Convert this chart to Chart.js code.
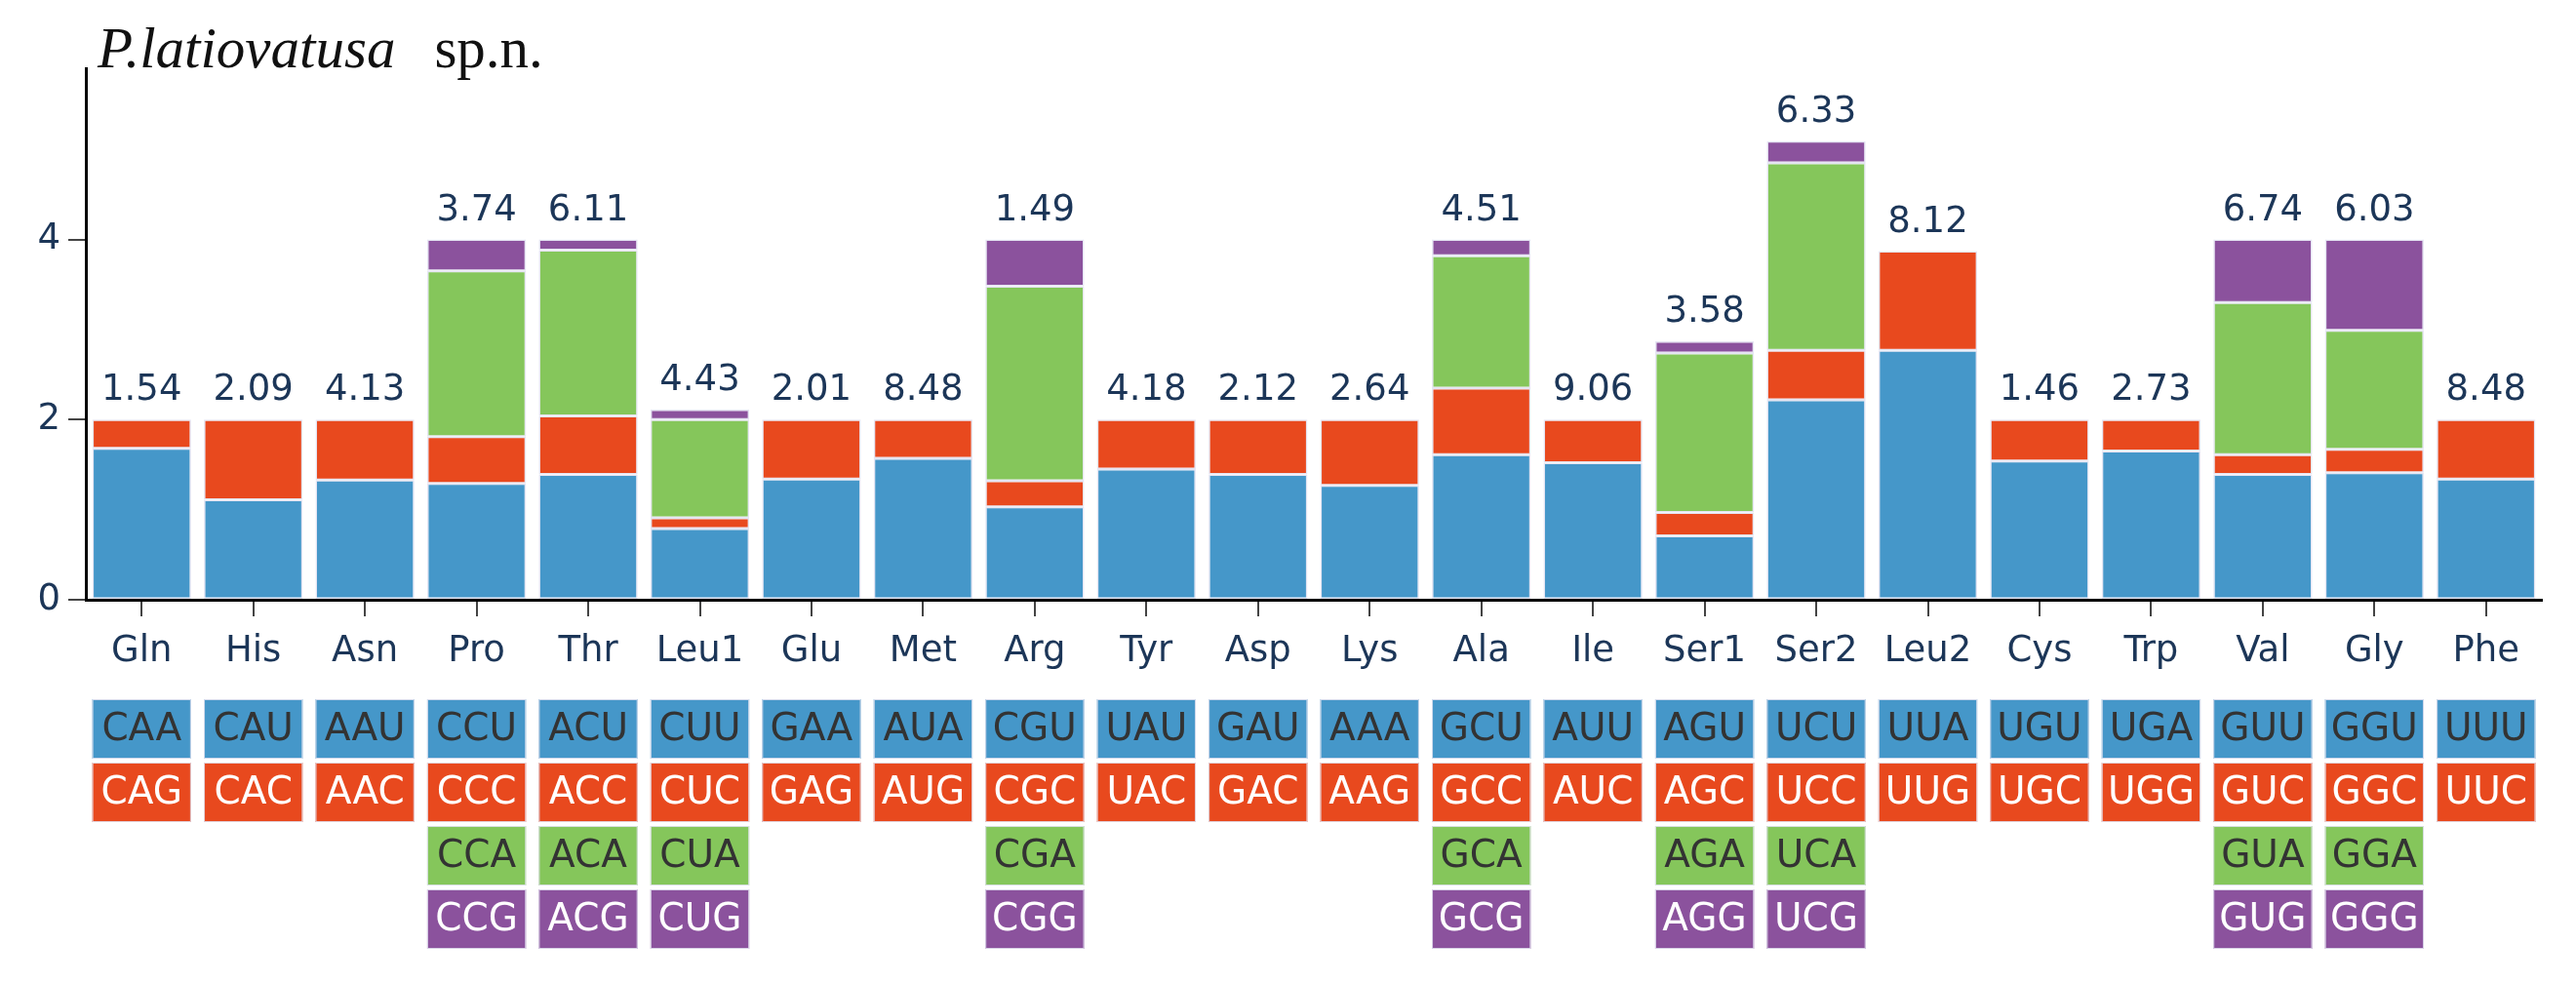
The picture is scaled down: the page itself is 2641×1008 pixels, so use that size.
<!DOCTYPE html>
<html>
<head>
<meta charset="utf-8">
<script src="https://cdn.jsdelivr.net/npm/chart.js@4.4.1/dist/chart.umd.min.js"></script>
<style>
  html, body { margin: 0; padding: 0; background: #fff; }
  canvas { display: block; }
</style>
</head>
<body>
<canvas id="myChart" width="2641" height="1008"></canvas>
<script>
// amino acids along the x axis
var aminoAcids = ['Gln', 'His', 'Asn', 'Pro', 'Thr', 'Leu1', 'Glu', 'Met', 'Arg', 'Tyr', 'Asp',
                  'Lys', 'Ala', 'Ile', 'Ser1', 'Ser2', 'Leu2', 'Cys', 'Trp', 'Val', 'Gly', 'Phe'];

// RSCU of each codon, stacked bottom to top
var rscu1 = [1.68, 1.11, 1.33, 1.29, 1.39, 0.79, 1.34, 1.57, 1.03, 1.45, 1.39,
             1.27, 1.61, 1.52, 0.71, 2.22, 2.77, 1.54, 1.65, 1.39, 1.41, 1.34];
var rscu2 = [0.32, 0.89, 0.67, 0.52, 0.65, 0.12, 0.66, 0.43, 0.29, 0.55, 0.61,
             0.73, 0.74, 0.48, 0.26, 0.55, 1.10, 0.46, 0.35, 0.22, 0.26, 0.66];
var rscu3 = [null, null, null, 1.84, 1.84, 1.09, null, null, 2.16, null, null,
             null, 1.47, null, 1.77, 2.08, null, null, null, 1.69, 1.32, null];
var rscu4 = [null, null, null, 0.35, 0.12, 0.11, null, null, 0.52, null, null,
             null, 0.18, null, 0.13, 0.24, null, null, null, 0.70, 1.01, null];

// numbers printed above the bars
var barLabels = ['1.54', '2.09', '4.13', '3.74', '6.11', '4.43', '2.01', '8.48', '1.49', '4.18', '2.12',
                 '2.64', '4.51', '9.06', '3.58', '6.33', '8.12', '1.46', '2.73', '6.74', '6.03', '8.48'];

// codon table under the axis
var codons1 = ['CAA', 'CAU', 'AAU', 'CCU', 'ACU', 'CUU', 'GAA', 'AUA', 'CGU', 'UAU', 'GAU',
               'AAA', 'GCU', 'AUU', 'AGU', 'UCU', 'UUA', 'UGU', 'UGA', 'GUU', 'GGU', 'UUU'];
var codons2 = ['CAG', 'CAC', 'AAC', 'CCC', 'ACC', 'CUC', 'GAG', 'AUG', 'CGC', 'UAC', 'GAC',
               'AAG', 'GCC', 'AUC', 'AGC', 'UCC', 'UUG', 'UGC', 'UGG', 'GUC', 'GGC', 'UUC'];
var codons3 = ['', '', '', 'CCA', 'ACA', 'CUA', '', '', 'CGA', '', '',
               '', 'GCA', '', 'AGA', 'UCA', '', '', '', 'GUA', 'GGA', ''];
var codons4 = ['', '', '', 'CCG', 'ACG', 'CUG', '', '', 'CGG', '', '',
               '', 'GCG', '', 'AGG', 'UCG', '', '', '', 'GUG', 'GGG', ''];

var yTicks = [0, 2, 4];

var colors = ['#4597c9', '#e8491e', '#85c65b', '#8b529d'];
var codonText = ['#333333', '#ffffff', '#333333', '#ffffff'];
var navy = '#1c3658';
var font = '"DejaVu Sans", Verdana, sans-serif';

var extras = {
    id: 'extras',
    afterDraw: function(chart) {
        var ctx = chart.ctx;
        var xs = chart.scales.x;
        var ys = chart.scales.y;
        var area = chart.chartArea;
        var barW = chart.getDatasetMeta(0).data[0].width;
        ctx.save();

        // totals above each bar
        ctx.font = '37px ' + font;
        ctx.fillStyle = navy;
        ctx.textAlign = 'center';
        ctx.textBaseline = 'alphabetic';
        for (var i = 0; i < aminoAcids.length; i++) {
            var top = (rscu1[i] || 0) + (rscu2[i] || 0) + (rscu3[i] || 0) + (rscu4[i] || 0);
            ctx.fillText(barLabels[i], xs.getPixelForValue(i), ys.getPixelForValue(top) - 20);
        }

        // codon boxes
        var rows = [codons1, codons2, codons3, codons4];
        ctx.font = '39px ' + font;
        ctx.textBaseline = 'middle';
        for (var r = 0; r < rows.length; r++) {
            var y0 = area.bottom + 102 + r * 65;
            for (var j = 0; j < aminoAcids.length; j++) {
                if (!rows[r][j]) continue;
                var cx = xs.getPixelForValue(j);
                ctx.fillStyle = colors[r];
                ctx.fillRect(cx - barW / 2, y0, barW, 61);
                ctx.strokeStyle = 'rgba(225,225,240,0.9)';
                ctx.lineWidth = 1;
                ctx.strokeRect(cx - barW / 2 + 0.5, y0 + 0.5, barW - 1, 60);
                ctx.fillStyle = codonText[r];
                ctx.fillText(rows[r][j], cx, y0 + 32);
            }
        }

        // title: italic species name + plain "sp.n."
        ctx.textAlign = 'left';
        ctx.textBaseline = 'alphabetic';
        ctx.fillStyle = '#111';
        ctx.font = 'italic 59px "Liberation Serif", "Times New Roman", serif';
        ctx.fillText('P.latiovatusa', 100, 69);
        var w = ctx.measureText('P.latiovatusa').width;
        ctx.font = '59px "Liberation Serif", "Times New Roman", serif';
        ctx.fillText('sp.n.', 100 + w + 40, 69);
        ctx.restore();
    }
};

function makeSet(label, data, k) {
    return {
        label: label,
        data: data,
        backgroundColor: colors[k],
        borderColor: 'rgba(228,228,242,0.95)',
        borderWidth: 1.5,
        borderSkipped: false,
        barPercentage: 0.885,
        categoryPercentage: 1.0
    };
}

var ctx = document.getElementById('myChart');
var myChart = new Chart(ctx, {
    type: 'bar',
    data: {
        labels: aminoAcids,
        datasets: [
            makeSet('codon 1', rscu1, 0),
            makeSet('codon 2', rscu2, 1),
            makeSet('codon 3', rscu3, 2),
            makeSet('codon 4', rscu4, 3)
        ]
    },
    options: {
        responsive: false,
        animation: false,
        devicePixelRatio: 1,
        layout: { padding: { top: 70, right: 35, left: 0, bottom: 0 } },
        plugins: {
            legend: { display: false },
            tooltip: { enabled: false }
        },
        scales: {
            x: {
                stacked: true,
                z: 1,
                grid: {
                    offset: false,
                    drawOnChartArea: false,
                    drawTicks: true,
                    tickLength: 17,
                    tickColor: '#444',
                    lineWidth: 2
                },
                border: { display: true, color: '#000', width: 3 },
                ticks: {
                    color: navy,
                    padding: 14,
                    maxRotation: 0,
                    autoSkip: false,
                    font: { family: font, size: 37 }
                },
                afterFit: function(scale) { scale.height = 393; }
            },
            y: {
                stacked: true,
                min: 0,
                max: 5.9,
                z: 1,
                grid: {
                    drawOnChartArea: false,
                    drawTicks: true,
                    tickLength: 18,
                    tickColor: '#444',
                    lineWidth: 2
                },
                border: { display: true, color: '#000', width: 3 },
                ticks: {
                    color: navy,
                    padding: 8,
                    includeBounds: false,
                    font: { family: font, size: 37 }
                },
                afterBuildTicks: function(scale) {
                    scale.ticks = yTicks.map(function(v) { return { value: v }; });
                },
                afterFit: function(scale) { scale.width = 88; }
            }
        }
    },
    plugins: [extras]
});
</script>
</body>
</html>
